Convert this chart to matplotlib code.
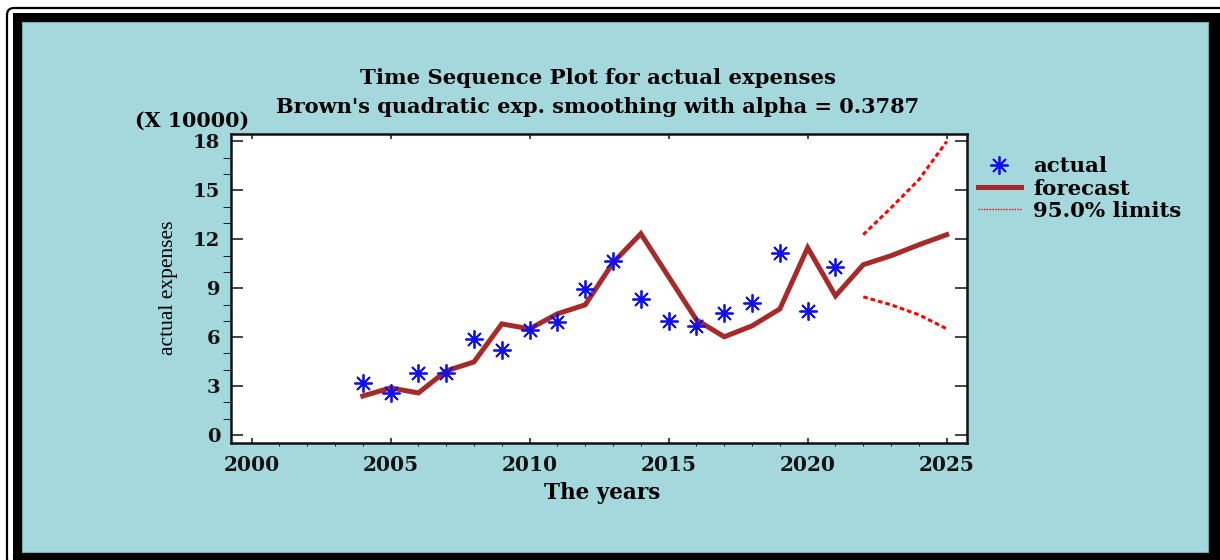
import matplotlib
matplotlib.use('Agg')
import matplotlib.pyplot as plt
from matplotlib.patches import Rectangle, FancyBboxPatch
from matplotlib.ticker import MultipleLocator

# ---- data (values in units of 10000) ----
years_actual = list(range(2004, 2022))
actual = [3.19, 2.58, 3.81, 3.81, 5.89, 5.22, 6.45, 6.94, 8.96, 10.68,
          8.35, 7.00, 6.69, 7.49, 8.10, 11.17, 7.61, 10.31]
years_forecast = list(range(2004, 2026))
forecast = [2.39, 2.89, 2.58, 3.93, 4.48, 6.81, 6.51, 7.43, 7.98, 10.56,
            12.34, 9.70, 7.06, 6.02, 6.69, 7.73, 11.48, 8.53, 10.44, 10.99,
            11.66, 12.28]
years_limits = [2022, 2023, 2024, 2025]
upper_limit = [12.28, 13.93, 15.65, 17.99]
lower_limit = [8.47, 7.98, 7.37, 6.51]
x_ticks = [2000, 2005, 2010, 2015, 2020, 2025]
y_ticks = [0, 3, 6, 9, 12, 15, 18]

W, H = 1220, 560
TEAL = '#A4D8DC'
SERIF_B = dict(family='DejaVu Serif', weight='bold')

fig = plt.figure(figsize=(W / 100, H / 100), dpi=100)
fig.patch.set_facecolor('white')

def inch(x, y):
    return (x / 100.0, (H - y) / 100.0)

# outer thin rounded line
outer = FancyBboxPatch(inch(7.0, 565), (1230 - 7.0) / 100, (565 - 8.0) / 100,
                       boxstyle='round,pad=0,rounding_size=0.07',
                       transform=fig.dpi_scale_trans, fill=False,
                       edgecolor='black', linewidth=1.6, zorder=-30)
fig.patches.append(outer)
# thick black frame
frame = Rectangle(inch(12.7, 570), (1230 - 12.7) / 100, (570 - 13) / 100,
                  transform=fig.dpi_scale_trans, facecolor='black',
                  edgecolor='none', zorder=-20)
fig.patches.append(frame)
# teal panel
panel = Rectangle(inch(22, 552), (1208 - 22) / 100, (552 - 22) / 100,
                  transform=fig.dpi_scale_trans, facecolor=TEAL,
                  edgecolor='#7FAAAD', linewidth=0.8, zorder=-10)
fig.patches.append(panel)

ax = fig.add_axes([230.7 / W, 1 - 442.7 / H, (967 - 230.7) / W, (442.7 - 134) / H])
ax.set_facecolor('white')

ax.plot(years_forecast, forecast, color='#A52A2A', linewidth=3.6,
        solid_joinstyle='miter', label='forecast', zorder=3)
ax.plot(years_actual, actual, linestyle='none', marker=(8, 2, 0),
        markersize=13, markeredgewidth=1.3, color='#1010EE',
        label='actual', zorder=4)
ax.plot(years_limits, upper_limit, color='red', linewidth=2.2,
        linestyle=(0, (1.5, 1.0)), label='95.0% limits', zorder=3)
ax.plot(years_limits, lower_limit, color='red', linewidth=2.2,
        linestyle=(0, (1.5, 1.0)), zorder=3)

ax.set_xlim(1999.25, 2025.73)
ax.set_ylim(-0.47, 18.45)
ax.set_xticks(x_ticks)
ax.set_yticks(y_ticks)
ax.xaxis.set_minor_locator(MultipleLocator(1))
ax.yaxis.set_minor_locator(MultipleLocator(1))
ax.set_xticklabels([str(v) for v in x_ticks], fontsize=14.5, **SERIF_B)
ax.set_yticklabels([str(v) for v in y_ticks], fontsize=14, **SERIF_B)

for s in ax.spines.values():
    s.set_linewidth(1.8)
    s.set_color('#111111')
ax.tick_params(direction='in', top=True, right=True, width=1.1, colors='#111111')
ax.tick_params(axis='x', which='major', length=3.8, pad=9.0)
ax.tick_params(axis='x', which='minor', length=2.2)
ax.tick_params(axis='y', which='major', length=8.6, pad=7.5)
ax.tick_params(axis='y', which='minor', length=5.8)

ax.set_xlabel('The years', fontsize=15.5, **SERIF_B)
ax.xaxis.set_label_coords(0.504, -0.163)
ax.xaxis.label.set_va('center')
ax.set_ylabel('actual expenses', fontsize=15.5, family='Liberation Serif')
ax.yaxis.set_label_coords(-0.0845, 0.503)
ax.yaxis.label.set_va('center')

fig.text(598 / W, 1 - 84.3 / H, 'Time Sequence Plot for actual expenses',
         ha='center', va='baseline', fontsize=15.3, **SERIF_B)
fig.text(598 / W, 1 - 112.5 / H, "Brown's quadratic exp. smoothing with alpha = 0.3787",
         ha='center', va='baseline', fontsize=15.0, **SERIF_B)
fig.text(192.5 / W, 1 - 126.5 / H, '(X 10000)', ha='center', va='baseline',
         fontsize=14.8, **SERIF_B)

h, l = ax.get_legend_handles_labels()
order = [l.index('actual'), l.index('forecast'), l.index('95.0% limits')]
leg = ax.legend([h[i] for i in order], [l[i] for i in order],
                loc='upper left', bbox_to_anchor=(978 / W, 1 - 156.5 / H),
                bbox_transform=fig.transFigure, frameon=False, borderpad=0,
                borderaxespad=0, handlelength=2.0, handletextpad=0.6,
                labelspacing=0.1, numpoints=1,
                prop=dict(family='DejaVu Serif', weight='bold', size=15.3))
leg.get_lines()[2].set_linewidth(1.0)
leg.get_lines()[2].set_linestyle((0, (1, 1)))

fig.savefig('out.png', dpi=100, facecolor='white')
